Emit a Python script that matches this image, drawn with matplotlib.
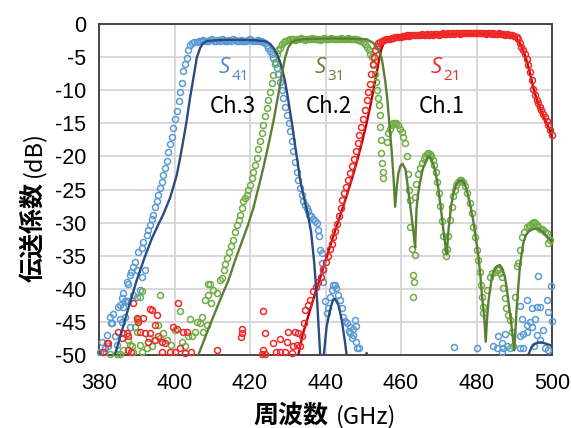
import matplotlib
matplotlib.use("Agg")
import matplotlib.pyplot as plt

# ---------------- data ----------------
x_ticks = [380, 400, 420, 440, 460, 480, 500]
x_tick_labels = ["380", "400", "420", "440", "460", "480", "500"]
y_ticks = [0, -5, -10, -15, -20, -25, -30, -35, -40, -45, -50]
y_tick_labels = ["0", "-5", "-10", "-15", "-20", "-25", "-30", "-35", "-40", "-45", "-50"]

# measured S41 (Ch.3)
s41_meas_f = [
    380.3, 380.7, 381.2, 381.6, 382.0, 382.5, 382.8, 383.1, 383.4, 383.8, 384.2, 384.7,
    385.1, 385.6, 385.6, 386.0, 386.0, 386.4, 386.4, 386.9, 386.9, 387.3, 387.3, 387.7,
    387.7, 388.2, 388.2, 388.6, 389.1, 389.1, 389.5, 390.0, 390.0, 390.4, 390.9, 391.3,
    391.3, 391.7, 392.2, 392.6, 393.1, 393.5, 394.0, 394.4, 394.8, 395.3, 395.7, 396.2,
    396.6, 397.0, 397.5, 397.9, 398.4, 398.8, 399.3, 399.7, 400.2, 400.6, 401.1, 401.5,
    401.9, 402.3, 402.8, 403.2, 403.6, 404.1, 404.6, 405.1, 405.9,
    406.5, 407.0, 407.5, 408.0, 408.5, 409.0, 409.5, 410.0, 410.5, 411.0, 411.5, 412.0,
    412.5, 413.0, 413.5, 414.0, 414.5, 415.0, 415.5, 416.0, 416.5, 417.0, 417.5, 418.0,
    418.5, 419.0, 419.5, 420.0, 420.5, 421.0, 421.5, 422.0, 422.5, 423.0, 423.5,
    424.0, 424.4, 424.9, 425.3, 425.8, 426.2, 426.7, 427.1, 427.5, 427.9, 428.4, 428.8,
    429.3, 429.7, 430.2, 430.6, 431.1, 431.5, 432.0, 432.4, 432.8, 433.2, 433.7, 434.1,
    434.6, 435.0, 435.4, 435.7, 436.2, 436.7, 437.2, 437.7, 438.1, 438.4, 438.5, 439.0,
    439.2, 439.4, 439.4, 439.9, 440.3, 440.7, 441.2, 441.6, 442.1, 442.5, 442.9, 443.4,
    443.8, 444.3, 444.7, 445.2, 445.6, 446.1, 446.5, 446.5, 447.0, 447.4, 447.4, 447.8,
    448.2, 448.2, 448.4, 448.9,
    474.1, 480.0, 484.4, 485.3, 485.6, 486.7, 486.7, 487.1, 487.5, 488.0, 488.8, 491.5,
    491.5, 491.5, 492.0, 492.4, 492.4, 493.3, 493.3, 493.4, 494.2, 494.6, 494.7, 495.1,
    495.5, 495.9, 495.9, 496.4, 496.8, 496.8, 497.7, 498.1, 498.6, 499.0, 499.0, 499.7,
    499.9,
]
s41_meas_db = [
    -49.5, -48.0, -49.6, -49.0, -47.0, -48.7, -44.2, -45.2, -45.2, -43.8, -47.2, -48.5,
    -42.7, -44.5, -42.4, -45.0, -41.4, -40.7, -42.7, -41.9, -44.2, -41.9, -38.9, -41.9,
    -39.2, -37.9, -45.7, -37.4, -36.7, -40.9, -35.9, -41.2, -37.2, -34.4, -40.2, -38.2,
    -33.8, -32.9, -37.2, -31.9, -31.1, -30.3, -29.4, -28.8, -27.6, -26.8, -25.8, -24.8,
    -23.8, -22.8, -21.8, -20.7, -19.4, -18.2, -17.0, -15.7, -14.4, -13.2, -11.7, -10.2,
    -8.9, -7.1, -6.0, -5.1, -4.0, -3.1, -2.8, -2.7, -2.7,
    -2.6, -2.5, -2.4, -2.5, -2.6, -2.5, -2.4, -2.3, -2.5, -2.6, -2.4, -2.5,
    -2.3, -2.4, -2.6, -2.5, -2.4, -2.5, -2.3, -2.4, -2.6, -2.5, -2.4, -2.5,
    -2.6, -2.5, -2.4, -2.3, -2.5, -2.6, -2.5, -2.4, -2.5, -2.6, -2.7,
    -2.8, -3.1, -3.6, -4.1, -4.6, -5.1, -5.8, -6.6, -7.6, -8.7, -10.0, -11.2,
    -12.5, -13.7, -15.0, -16.2, -17.7, -19.2, -20.8, -22.3, -23.6, -24.8, -25.8, -26.8,
    -27.3, -27.8, -28.3, -28.8, -29.0, -29.4, -29.8, -30.1, -31.1, -32.0, -34.1, -34.6,
    -36.1, -37.2, -38.9, -41.9, -43.7, -42.9, -41.2, -40.2, -39.4, -39.4, -39.9, -40.9,
    -41.7, -42.9, -44.2, -44.8, -45.2, -46.3, -45.7, -46.7, -47.5, -46.0, -47.0, -44.7,
    -45.6, -48.0, -48.9, -48.9,
    -48.8, -49.0, -48.7, -49.0, -47.2, -48.2, -49.5, -49.0, -46.8, -48.7, -49.0, -42.6,
    -47.2, -49.0, -44.5, -46.8, -49.0, -41.7, -46.5, -45.5, -45.0, -42.9, -45.7, -48.7,
    -44.5, -42.7, -47.0, -38.1, -42.8, -47.7, -46.2, -49.0, -41.7, -43.5, -49.2, -39.6,
    -44.8,
]

# measured S31 (Ch.2)
s31_meas_f = [
    383.0, 384.9, 385.6, 386.4, 387.7, 388.2, 388.7, 389.0, 389.5, 390.0, 390.1, 390.4,
    390.9, 391.3, 390.9, 391.5, 392.6, 393.2, 394.0, 395.7, 396.2, 396.2, 397.0, 397.9,
    399.2, 400.1, 401.5, 401.9, 402.8, 403.7, 404.1, 404.6, 405.4, 405.9, 406.8, 407.2,
    407.6, 408.1, 408.5, 408.9, 408.9, 409.4, 409.8, 410.3, 411.2, 412.0,
    412.5, 413.0, 413.5, 414.0, 414.5, 415.0, 415.5, 416.0, 416.5, 417.0, 417.4, 417.8,
    418.2, 418.7, 419.1, 419.5, 420.0, 420.4, 420.9, 421.3, 421.8, 422.2, 422.6, 423.1,
    423.5, 424.0, 424.4, 424.9, 425.3, 425.8, 426.2, 426.6, 427.1, 427.5, 427.9, 428.4,
    428.9, 429.4,
    430.0, 430.5, 431.0, 431.5, 432.0, 432.5, 433.0, 433.5, 434.0, 434.5, 435.0, 435.5,
    436.0, 436.5, 437.0, 437.5, 438.0, 438.5, 439.0, 439.5, 440.0, 440.5, 441.0, 441.5,
    442.0, 442.5, 443.0, 443.5, 444.0, 444.5, 445.0, 445.5, 446.0, 446.5, 447.0, 447.5,
    448.0, 448.5, 449.0,
    449.5, 450.0, 450.5, 451.0, 451.5, 451.9, 452.2, 452.6, 453.0, 453.4, 453.7, 454.0,
    454.2, 454.4, 454.5, 454.6, 454.8, 455.0, 455.1, 455.3,
    456.3, 456.6, 457.0, 457.5, 458.0, 458.4, 458.8, 459.3, 459.8, 460.2, 460.6, 461.0,
    461.5, 461.9, 462.2, 462.4, 462.5, 463.0, 463.3, 463.5, 463.3, 463.7, 463.7, 464.1,
    464.6, 465.0, 465.5, 466.0, 466.4, 466.8, 467.2, 467.6, 468.0, 468.4, 468.8, 469.2,
    469.6, 470.0, 470.4, 470.8, 471.2, 471.6, 471.8, 472.1, 472.5, 473.0, 473.4, 473.8,
    474.2, 474.6, 475.0, 475.5, 476.0, 476.5, 477.0, 477.5, 478.2, 478.7, 479.1, 479.6,
    480.0, 480.5, 480.9, 481.1, 481.4, 481.6, 481.8, 482.7, 483.6, 484.2, 484.9, 485.4,
    485.8, 486.3, 486.7, 487.1, 487.5, 487.9, 488.4, 488.8, 489.3, 489.7, 490.2, 490.6,
    491.1, 491.5, 492.0, 492.6, 493.3, 493.8, 494.2, 494.7, 495.1, 495.5, 496.0, 496.4,
    496.8, 497.3, 497.7, 498.2, 498.6, 499.0, 499.5,
]
s31_meas_db = [
    -49.8, -49.8, -49.8, -49.2, -47.7, -48.5, -48.7, -49.6, -45.7, -46.5, -44.5, -44.7,
    -41.2, -40.4, -48.5, -49.5, -49.0, -47.5, -48.7, -45.5, -40.9, -47.5, -46.7, -47.7,
    -48.5, -46.2, -43.4, -48.0, -48.7, -47.2, -44.5, -47.2, -46.5, -45.0, -45.2, -44.2,
    -46.5, -41.7, -45.5, -40.9, -39.2, -39.2, -42.2, -40.2, -40.7, -38.7,
    -38.4, -37.2, -36.3, -35.4, -34.5, -33.6, -32.6, -31.4, -30.3, -29.6, -28.8, -27.8,
    -26.8, -26.3, -25.8, -25.0, -24.3, -23.3, -22.3, -21.3, -20.2, -18.9, -17.7, -16.5,
    -15.2, -13.9, -12.7, -11.5, -10.2, -8.9, -7.7, -6.1, -4.6, -4.0, -3.6, -3.0,
    -2.7, -2.5,
    -2.4, -2.3, -2.2, -2.3, -2.4, -2.3, -2.2, -2.1, -2.3, -2.4, -2.2, -2.3,
    -2.2, -2.1, -2.3, -2.2, -2.3, -2.4, -2.2, -2.1, -2.2, -2.3, -2.2, -2.1,
    -2.2, -2.3, -2.2, -2.3, -2.1, -2.2, -2.3, -2.2, -2.1, -2.2, -2.3, -2.2,
    -2.3, -2.4, -2.4,
    -2.5, -2.7, -3.0, -3.4, -4.0, -4.5, -5.0, -6.2, -7.5, -8.8, -10.0, -11.2,
    -12.2, -13.7, -15.5, -17.5, -19.5, -21.0, -22.3, -23.3,
    -17.8, -16.5, -15.8, -15.3, -15.0, -14.9, -15.0, -15.3, -15.8, -16.3, -17.0, -18.0,
    -20.0, -22.6, -25.1, -26.6, -30.6, -34.0, -37.9, -38.9, -41.3, -34.9, -26.1, -24.1,
    -22.6, -21.8, -21.0, -20.4, -20.0, -19.7, -19.5, -19.7, -20.0, -20.5, -21.3, -22.3,
    -23.8, -25.5, -27.5, -29.8, -32.0, -34.3, -35.1, -34.0, -32.0, -29.6, -27.6, -26.0,
    -25.0, -24.3, -23.9, -23.6, -23.6, -23.9, -24.5, -25.5, -27.1, -28.6, -30.6, -32.1,
    -34.1, -35.6, -37.4, -39.4, -41.2, -42.7, -43.7, -40.2, -38.2, -37.6, -37.4, -37.0,
    -37.2, -37.6, -38.2, -39.9, -41.4, -42.9, -44.0, -44.7, -46.5, -48.7, -41.2, -36.6,
    -36.1, -34.1, -32.1, -31.4, -30.6, -30.5, -30.4, -30.1, -29.9, -30.1, -30.4, -30.6,
    -30.9, -31.0, -31.1, -31.4, -31.6, -33.1, -32.6,
]

# measured S21 (Ch.1)
s21_meas_f = [
    381.0, 382.0, 382.5, 385.1, 386.0, 386.4, 387.3, 387.7, 387.7, 388.6, 389.1, 390.1,
    390.4, 390.9, 391.7, 392.2, 393.1, 393.5, 393.5, 394.0, 394.8, 394.8, 395.3, 395.7,
    396.6, 396.6, 397.5, 398.8, 399.7, 400.1, 400.6, 401.0, 401.5, 402.3, 402.8, 403.2,
    404.5, 411.2, 417.6, 417.8, 417.9, 423.1, 423.5, 423.5, 424.0, 424.0, 426.2, 426.8,
    427.9, 427.9, 429.3, 429.7, 430.1, 431.0, 431.5, 431.9, 432.4, 432.8,
    433.2, 433.7, 434.2, 434.6, 435.3, 435.9, 436.8, 437.4, 438.1, 438.7, 439.4, 440.0,
    440.7, 441.2, 441.6, 442.1, 442.5, 443.0, 443.5, 444.0, 444.5, 445.0, 445.5, 446.0,
    446.5, 447.0, 447.5, 448.0, 448.5, 449.0, 449.5, 450.0, 450.5, 451.0, 451.3, 451.7,
    452.1, 452.5, 452.8, 453.2, 453.6, 454.0, 454.4, 455.0, 455.5, 456.0, 456.5,
    457.0, 457.5, 458.0, 458.5, 459.0, 459.5, 460.0, 460.5, 461.0, 461.5, 462.0, 462.5,
    463.0, 463.5, 464.0, 464.5, 465.0, 465.5, 466.0, 466.5, 467.0, 467.5, 468.0, 468.5,
    469.0, 469.5, 470.0, 470.5, 471.0, 471.5, 472.0, 472.5, 473.0, 473.5, 474.0, 474.5,
    475.0, 475.5, 476.0, 476.5, 477.0, 477.5, 478.0, 478.5, 479.0, 479.5, 480.0, 480.5,
    481.0, 481.5, 482.0, 482.5, 483.0, 483.5, 484.0, 484.5, 485.0, 485.5, 486.0, 486.5,
    487.0, 487.5, 488.0, 488.5, 489.0, 489.5, 490.0, 490.6,
    491.0, 491.5, 491.9, 492.3, 492.8, 493.3, 493.7, 494.2, 494.6, 495.0, 495.5, 495.9,
    496.3, 496.8, 497.2, 497.7, 498.1, 498.6, 499.0, 499.5, 499.9,
]
s21_meas_db = [
    -49.6, -48.2, -48.2, -46.5, -47.5, -46.7, -46.7, -47.2, -49.2, -49.6, -42.2, -44.4,
    -45.0, -46.5, -44.4, -46.7, -48.0, -46.7, -43.0, -43.2, -45.5, -47.7, -44.0, -47.2,
    -48.0, -49.5, -48.2, -49.5, -45.7, -49.5, -46.0, -42.2, -49.0, -46.5, -49.7, -46.5,
    -49.6, -49.2, -47.3, -46.7, -46.0, -49.8, -43.4, -49.2, -46.7, -49.8, -48.2, -49.6,
    -47.6, -49.5, -49.5, -48.1, -46.5, -49.7, -48.7, -46.5, -48.5, -46.7,
    -48.7, -47.2, -45.2, -43.2, -42.5, -41.7, -40.4, -39.8, -39.0, -38.2, -37.0, -36.0,
    -35.0, -34.0, -33.2, -32.2, -31.3, -30.2, -29.0, -27.8, -26.6, -25.5, -24.6, -23.6,
    -22.5, -21.5, -20.4, -19.2, -18.0, -16.8, -15.6, -14.4, -13.0, -11.5, -10.3, -9.0,
    -7.5, -6.0, -5.0, -4.0, -3.3, -2.9, -2.7, -2.5, -2.4, -2.3, -2.2,
    -2.2, -2.1, -2.1, -2.0, -2.0, -1.9, -1.9, -1.8, -1.8, -1.7, -1.8, -1.7,
    -1.7, -1.6, -1.7, -1.6, -1.6, -1.5, -1.6, -1.6, -1.5, -1.6, -1.5, -1.6,
    -1.5, -1.5, -1.6, -1.5, -1.4, -1.5, -1.5, -1.4, -1.5, -1.4, -1.5, -1.4,
    -1.4, -1.5, -1.4, -1.3, -1.4, -1.4, -1.3, -1.4, -1.4, -1.3, -1.4, -1.4,
    -1.3, -1.4, -1.4, -1.5, -1.4, -1.4, -1.5, -1.4, -1.5, -1.5, -1.4, -1.5,
    -1.5, -1.6, -1.5, -1.6, -1.6, -1.7, -1.8, -1.9,
    -2.3, -2.8, -3.4, -4.0, -4.6, -5.3, -6.2, -7.3, -8.5, -9.8, -10.8, -11.5,
    -12.0, -12.5, -13.0, -13.6, -14.1, -14.7, -15.3, -16.0, -16.8,
]

# simulated responses
s41_sim_f = [
    384.2, 386.0, 388.0, 390.0, 392.0, 394.0, 395.7, 397.0, 398.8, 399.7, 400.6, 401.5,
    402.3, 403.2, 404.1, 405.0, 405.9, 406.8, 407.6, 408.5, 410.0, 413.0, 416.0, 419.0,
    422.0, 424.0, 425.3, 426.2, 427.1, 427.9, 428.6, 429.3, 430.0, 430.6, 431.3, 431.9,
    432.6, 433.2, 433.9, 434.6, 435.4, 436.2, 437.0, 437.8, 438.3, 438.6, 438.9, 439.3,
    439.6, 440.3, 441.2, 441.9, 442.5, 443.4, 444.3, 445.2, 445.6, 446.5, 449.5, 450.9,
    452.3, 455.0, 490.0, 493.0, 493.7, 494.6, 495.5, 496.4, 497.3, 498.4, 499.5, 500.0,
]
s41_sim_db = [
    -50.0, -46.5, -42.5, -38.7, -35.4, -32.4, -30.3, -28.8, -26.3, -24.6, -22.8, -20.2,
    -17.7, -14.7, -11.2, -8.2, -5.1, -3.6, -2.9, -2.6, -2.5, -2.4, -2.4, -2.4,
    -2.5, -2.6, -3.0, -3.6, -4.5, -5.6, -7.0, -8.7, -11.0, -13.2, -15.7, -18.2,
    -20.8, -23.3, -25.2, -27.0, -29.0, -31.5, -36.0, -42.0, -47.0, -50.0, -56.0, -55.0,
    -49.7, -45.7, -43.2, -41.8, -41.5, -42.4, -44.7, -48.2, -50.0, -56.0, -52.0, -49.7,
    -52.0, -60.0, -60.0, -52.0, -50.0, -48.8, -48.3, -48.1, -48.1, -48.3, -48.5, -48.7,
]
s31_sim_f = [
    406.3, 408.0, 410.0, 412.0, 414.3, 416.0, 417.4, 419.5, 420.9, 422.2, 423.5, 424.9,
    426.2, 427.5, 428.4, 429.3, 430.1, 431.0, 432.0, 434.0, 440.0, 446.0, 449.0, 450.9,
    452.7, 454.0, 454.9, 455.8, 456.4, 456.9, 457.5, 458.0, 458.45, 458.9, 459.3, 459.8,
    460.4, 461.2, 461.9, 462.8, 463.3, 463.75, 464.1, 464.5, 465.0, 465.7, 466.4, 467.2,
    468.0, 469.0, 469.8, 470.6, 471.3, 472.1, 472.6, 473.2, 473.8, 474.5, 475.2, 476.0,
    476.8, 477.6, 478.4, 479.1, 479.8, 480.5, 481.0, 481.4, 482.0, 482.45, 482.8, 483.2,
    484.1, 484.8, 485.4, 486.2, 486.9, 487.5, 488.0, 488.4, 488.9, 489.3, 490.0, 490.4,
    490.6, 491.1, 491.5, 492.0, 492.4, 493.0, 493.7, 494.5, 495.5, 496.2, 496.8, 497.7,
    498.6, 499.5, 500.0,
]
s31_sim_db = [
    -50.0, -47.5, -44.6, -41.8, -38.7, -35.8, -33.6, -30.3, -27.8, -24.8, -21.8, -18.2,
    -14.7, -10.7, -7.7, -5.1, -3.6, -2.8, -2.5, -2.3, -2.2, -2.2, -2.3, -2.3,
    -2.9, -3.9, -5.2, -8.5, -11.5, -15.0, -19.0, -23.0, -27.6, -24.5, -22.6, -21.5,
    -21.1, -22.0, -25.0, -29.1, -31.5, -33.8, -28.0, -25.8, -24.1, -22.0, -21.0, -20.0,
    -20.3, -22.0, -24.5, -28.0, -31.5, -34.8, -31.0, -27.8, -25.8, -24.4, -23.8, -23.6,
    -24.0, -25.5, -27.5, -29.6, -32.3, -35.1, -37.8, -40.7, -44.0, -48.0, -44.5, -41.7,
    -38.2, -37.0, -36.6, -36.4, -37.0, -38.2, -39.8, -41.7, -43.8, -45.7, -49.3, -45.5,
    -43.2, -39.5, -36.6, -34.6, -33.1, -32.0, -31.4, -31.1, -30.9, -30.9, -31.1, -31.5,
    -32.1, -32.6, -33.0,
]
s21_sim_f = [
    432.8, 434.0, 435.4, 436.8, 438.1, 439.6, 441.2, 442.8, 444.3, 445.8, 447.2, 448.5,
    449.7, 450.8, 451.8, 452.7, 453.5, 454.2, 454.8, 455.4, 456.2, 457.5, 460.0, 465.0,
    470.0, 475.0, 480.0, 485.0, 488.0, 490.0, 491.0, 492.0, 493.0, 494.0, 495.0, 496.0,
    497.0, 498.0, 499.0, 500.0,
]
s21_sim_db = [
    -50.0, -46.8, -44.2, -41.5, -39.2, -36.5, -33.6, -30.8, -28.2, -25.6, -23.0, -20.4,
    -17.8, -15.2, -12.6, -10.0, -7.6, -5.4, -3.8, -2.9, -2.4, -2.1, -1.9, -1.7,
    -1.6, -1.5, -1.5, -1.5, -1.6, -1.9, -2.4, -3.5, -5.0, -7.0, -9.5, -11.5,
    -13.0, -14.3, -15.5, -17.0,
]

# ---------------- style ----------------
meas_blue, sim_blue, lbl_blue = "#5B9BD5", "#2B4C7E", "#5584C4"
meas_green, sim_green, lbl_green = "#70AD47", "#5B7F35", "#6B7B3A"
meas_red, sim_red, lbl_red = "#F02828", "#C00000", "#EE2A2A"

fig = plt.figure(figsize=(5.71, 4.28), dpi=100)
ax = fig.add_axes([99 / 571, 1 - 355 / 428, (552 - 99) / 571, (355 - 24) / 428])
ax.set_xlim(380, 500)
ax.set_ylim(-50, 0)

ax.set_xticks(x_ticks)
ax.set_xticklabels(x_tick_labels, fontsize=15.5, family="Liberation Sans")
ax.set_yticks(y_ticks)
ax.set_yticklabels(y_tick_labels, fontsize=15.5, family="Liberation Sans")
ax.tick_params(axis="x", length=0, pad=13)
ax.tick_params(axis="y", length=0, pad=9)
ax.grid(True, color="#D6D6D6", linewidth=1.3)
ax.set_axisbelow(True)
for sp in ax.spines.values():
    sp.set_color("#3A3A3A")
    sp.set_linewidth(1.3)

mk = dict(linestyle="none", marker="o", markersize=4.3, markerfacecolor="none",
          markeredgewidth=1.1, clip_on=False)

ax.plot(s21_sim_f, s21_sim_db, color=sim_red, lw=1.7, zorder=2)
ax.plot(s41_meas_f, s41_meas_db, markeredgecolor=meas_blue, zorder=3, **mk)
ax.plot(s31_meas_f, s31_meas_db, markeredgecolor=meas_green, zorder=3, **mk)
ax.plot(s21_meas_f, s21_meas_db, markeredgecolor=meas_red, zorder=3, **mk)
ax.plot(s41_sim_f, s41_sim_db, color=sim_blue, lw=1.7, zorder=4)
ax.plot(s31_sim_f, s31_sim_db, color=sim_green, lw=1.7, zorder=4)

# channel labels
it = dict(style="italic", family=["Open Sans", "Lato", "DejaVu Sans"], va="baseline")
for x0, sub, col in [(411.8, "41", lbl_blue), (437.2, "31", lbl_green), (467.9, "21", lbl_red)]:
    ax.text(x0, -7.4, "S", color=col, fontsize=16, zorder=6, **it)
    ax.text(x0 + 3.4, -8.4, sub, color=col, fontsize=11, zorder=6,
            family=["Open Sans", "DejaVu Sans"], va="baseline")
for x0, ch in [(409.4, "Ch.3"), (434.8, "Ch.2"), (464.8, "Ch.1")]:
    ax.text(x0, -13.4, ch, color="black", fontsize=16, zorder=6,
            family=["Noto Sans CJK JP", "DejaVu Sans"], va="baseline")

# axis titles
cjk = ["Noto Sans CJK JP", "DejaVu Sans"]
fig.text(253 / 571, 1 - 423 / 428, "周波数", fontsize=18, fontweight="bold",
         family=cjk, ha="left", va="baseline")
fig.text(336 / 571, 1 - 423 / 428, "(GHz)", fontsize=17, family=cjk,
         ha="left", va="baseline")
fig.text(40 / 571, 1 - 282 / 428, "伝送係数", fontsize=18, fontweight="bold",
         family=cjk, rotation=90, rotation_mode="anchor", ha="left", va="baseline")
fig.text(40 / 571, 1 - 177 / 428, "(dB)", fontsize=17, family=cjk,
         rotation=90, rotation_mode="anchor", ha="left", va="baseline")

fig.savefig("out.png", dpi=100)
